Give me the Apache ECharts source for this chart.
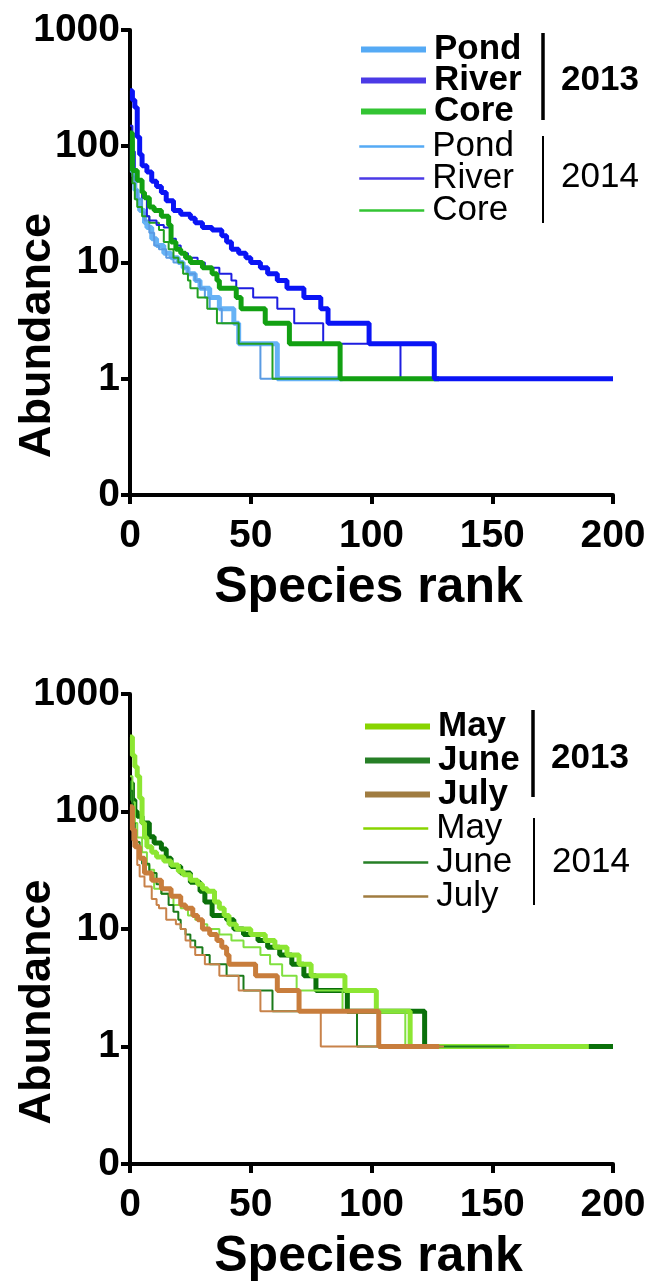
<!DOCTYPE html>
<html>
<head>
<meta charset="utf-8">
<script src="https://cdn.jsdelivr.net/npm/echarts@6/dist/echarts.min.js"></script>
<style>
  html, body { margin: 0; padding: 0; background: #fff; }
  #chart { width: 647px; height: 1281px; }
</style>
</head>
<body>
<div id="chart"></div>
<script>
// [rank where the abundance starts, abundance]
const pond2013 = [[0,110],[1,60],[2,42],[3,35],[4,28],[6,22],[7,20],[9,16],[11,14],[14,12],[17,11],[20,10],[22,9],[24,8],[27,7],[29,6],[33,5],[37,4],[43,3],[45,2],[61,1],[88,1]]
const river2013 = [[0,300],[1,250],[2,215],[3,120],[4,85],[5,68],[7,60],[9,50],[11,45],[13,40],[15,34],[18,28],[21,26],[25,24],[27,22],[30,20],[34,19],[38,17],[40,15],[42,13],[45,12],[48,11],[50,10],[54,9],[57,8],[61,7],[65,6],[72,5],[79,4],[82,3],[99,2],[126,1],[200,1]]
const core2013 = [[0,130],[1,62],[3,51],[5,40],[6,36],[8,30],[10,28],[13,25],[16,21],[17,15],[19,13],[21,12],[23,11],[25,10],[30,9],[34,8],[36,7],[37,6],[44,5],[46,4],[56,3],[66,2],[87,1],[128,1]]
const pond2014 = [[0,100],[1,55],[2,42],[3,35],[5,27],[6,23],[8,18],[10,14],[12,13],[15,11],[18,10],[22,9],[24,8],[27,7],[29,6],[31,5],[33,4],[38,3],[45,2],[54,1],[88,1]]
const river2014 = [[0,150],[1,90],[2,60],[3,50],[5,36],[7,25],[8,23],[11,21],[14,20],[17,16],[19,14],[21,12],[24,11],[28,10],[31,9],[37,8],[42,7],[44,6],[51,5],[61,4],[68,3],[80,2],[112,1],[128,1]]
const core2014 = [[0,120],[1,48],[2,35],[3,30],[5,25],[8,22],[12,19],[14,15],[16,13],[18,11],[20,10],[22,8],[24,7],[25,6],[28,5],[32,4],[36,3],[45,2],[59,1],[90,1]]

const may2013 = [[0,430],[1,300],[2,240],[3,200],[4,130],[5,80],[6,60],[7,50],[9,45],[11,41],[14,38],[17,35],[20,31],[22,29],[25,26],[28,24],[30,22],[32,21],[35,17],[37,15],[39,13],[41,11],[44,10],[50,9],[56,8],[60,7],[65,6],[70,5],[75,4],[89,3],[102,2],[116,1],[190,1]]
const june2013 = [[0,175],[1,125],[2,100],[3,91],[5,80],[8,61],[10,54],[13,48],[15,40],[17,34],[21,30],[25,25],[29,21],[31,17],[34,13],[40,12],[43,10],[47,9],[53,8],[57,7],[62,6],[67,5],[72,4],[77,3],[90,2],[122,1],[200,1]]
const july2013 = [[0,110],[1,70],[2,50],[4,40],[6,30],[9,26],[13,22],[17,19],[21,16],[23,15],[26,13],[28,12],[30,10],[33,9],[36,8],[38,7],[40,6],[41,5],[52,4],[61,3],[70,2],[103,1],[128,1]]
const may2014 = [[0,200],[1,120],[2,80],[3,60],[5,45],[7,35],[8,32],[10,22],[13,20],[16,19],[18,16],[21,15],[24,13],[27,12],[30,11],[32,10],[37,9],[42,8],[47,7],[54,6],[58,5],[63,4],[69,3],[88,2],[114,1],[160,1]]
const june2014 = [[0,150],[1,80],[2,55],[4,40],[5,36],[8,30],[11,24],[13,20],[16,16],[18,14],[20,12],[21,10],[23,9],[25,8],[27,7],[30,6],[33,5],[40,4],[47,3],[59,2],[94,1],[157,1]]
const july2014 = [[0,100],[1,57],[3,35],[4,28],[6,23],[9,18],[11,16],[12,15],[15,12],[19,11],[21,10],[23,8],[25,7],[27,6],[31,5],[37,4],[45,3],[54,2],[79,1],[130,1]]

const xTicks = [0, 50, 100, 150, 200]

const FONT = '"Liberation Sans", Arial, Helvetica, sans-serif'

const chart = echarts.init(document.getElementById('chart'), null, { renderer: 'canvas' })

function xAxis(gridIndex) {
  return {
    type: 'value', gridIndex,
    min: xTicks[0], max: xTicks[xTicks.length - 1], interval: 50,
    name: 'Species rank', nameLocation: 'middle', nameGap: 68, nameMoveOverlap: false,
    nameTextStyle: { fontFamily: FONT, fontSize: 50, fontWeight: 'bold', color: '#000', padding: [0, 6, 0, 0] },
    axisLine: { show: true, lineStyle: { color: '#000', width: 4 } },
    axisTick: { show: true, length: 9, lineStyle: { color: '#000', width: 4 } },
    axisLabel: { fontFamily: FONT, fontSize: 39, fontWeight: 'bold', color: '#000', margin: 22 },
    splitLine: { show: false }
  }
}

function yAxis(gridIndex) {
  return {
    type: 'log', gridIndex, logBase: 10, min: 0.1, max: 1000,
    // the title sits lower than the axis middle in the original
    name: 'Abundance', nameLocation: 'middle', nameGap: 70, nameMoveOverlap: false,
    nameTextStyle: { fontFamily: FONT, fontSize: 45, fontWeight: 'bold', color: '#000', padding: [0, 146, 0, 0] },
    axisLine: { show: true, lineStyle: { color: '#000', width: 4 } },
    axisTick: { show: true, length: 9, lineStyle: { color: '#000', width: 4 } },
    axisLabel: {
      fontFamily: FONT, fontSize: 39, fontWeight: 'bold', color: '#000', margin: 10,
      formatter: v => (v < 0.5 ? '0' : String(Math.round(v)))
    },
    splitLine: { show: false }
  }
}

function line(name, data, color, width, axis) {
  return {
    name, type: 'line', data, step: 'end',
    xAxisIndex: axis, yAxisIndex: axis,
    symbol: 'none', animation: false,
    lineStyle: { color, width },
    itemStyle: { color }
  }
}

function legend(items, top, left, bold, gap) {
  return {
    orient: 'vertical', top, left, padding: 0,
    itemWidth: 65, itemHeight: 35, itemGap: gap,
    selectedMode: false,
    formatter: n => n.split(' ')[0],
    textStyle: { fontFamily: FONT, fontSize: 35, fontWeight: bold ? 'bold' : 'normal', color: '#000', padding: [0, 0, 0, 3] },
    data: items.map(([name, color, w]) => ({
      name,
      lineStyle: { color, width: w },
      itemStyle: { color: 'rgba(0,0,0,0)', opacity: 0, borderWidth: 0 }
    }))
  }
}

function bracket(x, y1, y2, w, label, ty, bold) {
  return [
    { type: 'line', shape: { x1: x, y1, x2: x, y2 }, style: { stroke: '#000', lineWidth: w } },
    { type: 'text', x: x + 18, y: ty, style: { text: label, fill: '#000', font: (bold ? 'bold ' : '') + '35px ' + FONT, textVerticalAlign: 'middle' } }
  ]
}

const option = {
  backgroundColor: '#fff',
  animation: false,
  grid: [
    { left: 130, right: 34, top: 30, height: 465, outerBoundsMode: 'none', containLabel: false },
    { left: 130, right: 34, top: 694, height: 470, outerBoundsMode: 'none', containLabel: false }
  ],
  xAxis: [xAxis(0), xAxis(1)],
  yAxis: [yAxis(0), yAxis(1)],
  legend: [
    legend([['Pond 2013', '#55aaf5', 6], ['River 2013', '#4b3ae6', 6], ['Core 2013', '#33c433', 6]], 32, 358, true, -4),
    legend([['Pond 2014', '#55aaf5', 2.5], ['River 2014', '#4b3ae6', 2.5], ['Core 2014', '#33c433', 2.5]], 129, 358, false, -3),
    legend([['May 2013', '#88d400', 6], ['June 2013', '#267f26', 6], ['July 2013', '#a07c40', 6]], 709, 362, true, -1),
    legend([['May 2014', '#88d400', 2.5], ['June 2014', '#267f26', 2.5], ['July 2014', '#a07c40', 2.5]], 811, 362, false, -1)
  ],
  graphic: [
    ...bracket(543, 33, 120, 3.5, '2013', 80, true),
    ...bracket(543, 136, 223, 2, '2014', 177, false),
    ...bracket(533, 710, 797, 3.5, '2013', 758, true),
    ...bracket(534, 818, 905, 2, '2014', 862, false)
  ],
  series: [
    line('Pond 2013', pond2013, '#66b2f5', 5, 0),
    line('Pond 2014', pond2014, '#5a9be3', 2, 0),
    line('Core 2014', core2014, '#22a022', 2, 0),
    line('River 2014', river2014, '#1e1ee0', 2, 0),
    line('Core 2013', core2013, '#12a012', 5, 0),
    line('River 2013', river2013, '#0a14f5', 5, 0),

    line('June 2013', june2013, '#0a700a', 5, 1),
    line('May 2013', may2013, '#8ce632', 5, 1),
    line('May 2014', may2014, '#80e040', 2, 1),
    line('June 2014', june2014, '#1a7a1a', 2, 1),
    line('July 2014', july2014, '#c8824a', 2, 1),
    line('July 2013', july2013, '#c87d3c', 5, 1)
  ]
}

chart.setOption(option)
</script>
</body>
</html>
